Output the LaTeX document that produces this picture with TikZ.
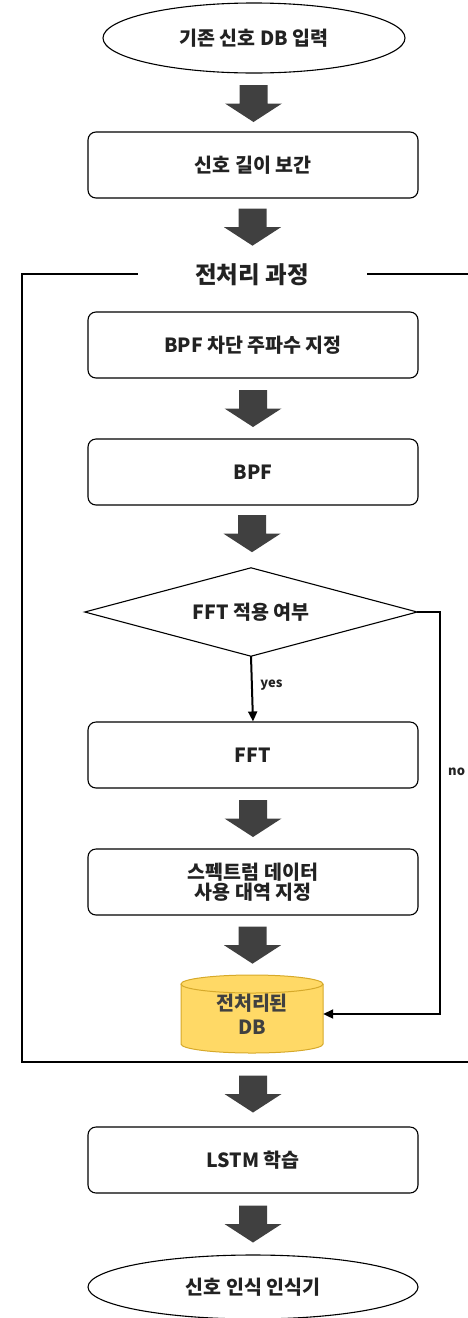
\documentclass[tikz,border=0pt]{standalone}
\usepackage{fontspec}
\setmainfont{Noto Sans CJK KR}
\usetikzlibrary{shapes.geometric,arrows.meta,calc}
\definecolor{arrowgray}{HTML}{404040}
\definecolor{dbfill}{HTML}{FFD966}
\definecolor{dbline}{HTML}{D6A92A}
\definecolor{txt}{HTML}{222222}
\begin{document}
\begin{tikzpicture}[x=1pt,y=-1pt,
  every node/.style={font=\bfseries\fontsize{19.5}{24}\selectfont, text=txt, align=center},
  termbox/.style={draw=black, line width=1.1pt, ellipse, inner sep=0pt},
  procbox/.style={draw=black, line width=1.1pt, rounded corners=8pt, minimum width=330pt, minimum height=66pt, inner sep=0pt},
  decbox/.style={minimum width=332pt, minimum height=88pt, inner sep=0pt},
  outline/.style={draw=black, line width=1.1pt},
  flow/.style={line width=2pt, -{Triangle[length=10pt,width=9pt]}},
  lbl/.style={font=\bfseries\fontsize{13}{15}\selectfont},
  blockarrow/.pic={\fill[arrowgray] (-14,-18.5) -- (14,-18.5) -- (14,0) -- (28.5,0) -- (0,18.5) -- (-28.5,0) -- (-14,0) -- cycle;}
]
\useasboundingbox (0,0) rectangle (467,1318);
% frame
\draw[line width=2.6pt] (22,274) rectangle (520,1062);
\node[fill=white, minimum width=229pt, minimum height=34pt, inner sep=0pt, font=\bfseries\fontsize{23.5}{28}\selectfont] (title) at (252,275) {전처리 과정};

\node[termbox, minimum width=302pt, minimum height=70pt] (start) at (254,38) {기존 신호 DB 입력};
\node[procbox] (interp) at (253,165) {신호 길이 보간};
\node[procbox] (cutoff) at (253,345) {BPF 차단 주파수 지정};
\node[procbox] (bpf) at (253,472) {BPF};
\node[decbox] (dec) at (251,612) {FFT 적용 여부};
\draw[outline] (dec.north) -- (dec.east) -- (dec.south) -- (dec.west) -- cycle;
\node[procbox] (fft) at (253,755) {FFT};
\node[procbox] (band) at (253,882) {스펙트럼 데이터\\[-4pt]사용 대역 지정};
% database cylinder
\fill[dbfill] (181,984) -- (181,1044) arc[start angle=180,end angle=0,x radius=71,y radius=9] -- (323,984) arc[start angle=0,end angle=-180,x radius=71,y radius=9] -- cycle;
\draw[dbline, line width=1pt] (181,984) -- (181,1044) arc[start angle=180,end angle=0,x radius=71,y radius=9] -- (323,984);
\draw[dbline, line width=1pt] (252,984) ellipse[x radius=71,y radius=9];
\node[minimum width=142pt, minimum height=78pt, inner sep=0pt, text=arrowgray] (db) at (252,1014) {전처리된\\[0pt]DB};
\node[procbox] (lstm) at (253,1160) {LSTM 학습};
\node[termbox, minimum width=330pt, minimum height=64pt] (final) at (253,1287) {신호 인식 인식기};

% block arrows
\pic at ($(start.south)!0.5!(interp.north)+(0,1)$) {blockarrow};
\pic at ($(interp.south)!0.5!(title.north)+(0,-1)$) {blockarrow};
\pic at ($(cutoff.south)!0.5!(bpf.north)$) {blockarrow};
\pic at ($(bpf.south)!0.5!(dec.north)+(0,-3)$) {blockarrow};
\pic at ($(fft.south)!0.5!(band.north)$) {blockarrow};
\pic at ($(band.south)!0.5!(db.north)$) {blockarrow};
\pic at (253,1094) {blockarrow};
\pic at ($(lstm.south)!0.5!(final.north)$) {blockarrow};

% decision connectors
\draw[flow] (dec.south) -- (fft.north) node[midway, right, lbl, xshift=4pt, yshift=4pt] {yes};
\coordinate (nocorner) at (440,612);
\draw[flow] (dec.east) -- (nocorner) |- (db.east);
\node[lbl, anchor=west, inner sep=0pt] (nolbl) at (448,772) {no};
\end{tikzpicture}
\end{document}
